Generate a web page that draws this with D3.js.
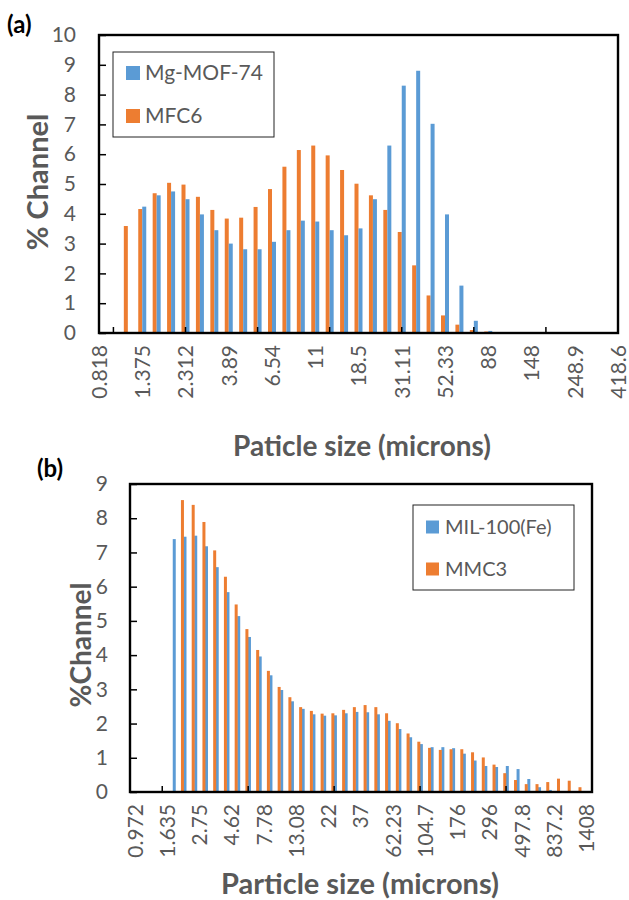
<!DOCTYPE html>
<html>
<head>
<meta charset="utf-8">
<script src="https://cdn.jsdelivr.net/npm/d3@7"></script>
<style>
  body { margin: 0; background: #fff; }
  text { font-family: Lato, "Open Sans", sans-serif; }
</style>
</head>
<body>
<script>
// ---- data (a) ----
const sizesA = ["0.818","0.972","1.156","1.375","1.635","1.945","2.312","2.75","3.27","3.89",
  "4.62","5.5","6.54","7.78","9.25","11","13.08","15.56","18.5","22","26.16","31.11","37","44",
  "52.33","62.23","74","88","104.7","124.5","148","176","209.3","248.9","296","352","418.6"];
const mfc6 = [0,0,3.59,4.16,4.69,5.04,4.98,4.57,4.13,3.84,3.87,4.23,4.83,5.58,6.14,6.29,5.96,5.47,
  5.01,4.62,4.13,3.39,2.27,1.26,0.59,0.28,0.10,0.05,0.03,0,0,0,0,0,0,0,0];
const mgMof = [0,0,0,4.24,4.62,4.75,4.49,3.98,3.45,3.00,2.81,2.81,3.06,3.45,3.77,3.74,3.45,3.28,
  3.51,4.49,6.29,8.30,8.80,7.02,3.98,1.59,0.41,0.07,0,0,0,0,0,0,0,0,0];
const seriesA = ["MFC6", "Mg-MOF-74"];

// ---- data (b) ----
const sizesB = ["0.972","1.156","1.375","1.635","1.945","2.312","2.75","3.27","3.89","4.62","5.5",
  "6.54","7.78","9.25","11","13.08","15.56","18.5","22","26.16","31.11","37","44","52.33","62.23",
  "74","88","104.7","124.5","148","176","209.3","248.9","296","352","418.6","497.8","592","704",
  "837.2","995.6","1184","1408"];
const mil100 = [0,0,0,0,7.39,7.46,7.49,7.18,6.57,5.84,5.14,4.53,3.96,3.41,2.98,2.65,2.43,2.27,2.23,
  2.24,2.30,2.34,2.33,2.27,2.08,1.84,1.60,1.40,1.31,1.31,1.28,1.12,0.92,0.76,0.73,0.76,0.67,0.38,
  0.14,0.06,0,0,0];
const mmc3 = [0,0,0,0,8.53,8.39,7.89,7.06,6.29,5.48,4.76,4.15,3.54,3.07,2.77,2.48,2.37,2.29,2.30,
  2.40,2.48,2.54,2.48,2.30,2.01,1.71,1.47,1.29,1.23,1.25,1.25,1.16,1.01,0.80,0.55,0.35,0.23,0.23,
  0.29,0.39,0.33,0.14,0];
const seriesB = ["MIL-100(Fe)", "MMC3"];

const blue = "#5B9BD5";
const orange = "#ED7D31";
const grey = "#595959";

const svg = d3.select('body')
  .append('svg')
  .attr('width', 629)
  .attr('height', 900);

// ================= chart (a) =================
const xA = d3.scalePoint().domain(sizesA).range([99, 618]);
const yA = d3.scaleLinear().domain([0, 10]).range([333, 35]);
const sA = d3.scalePoint().domain(seriesA).range([-2, 2]);
const colA = { "MFC6": orange, "Mg-MOF-74": blue };
const valsA = { "MFC6": mfc6, "Mg-MOF-74": mgMof };

const gA = svg.append('g');

seriesA.forEach(s => {
  gA.append('g').selectAll('rect')
    .data(sizesA)
    .enter()
    .append('rect')
    .attr('x', d => xA(d) + sA(s) - 2)
    .attr('width', 4)
    .attr('y', (d, i) => yA(valsA[s][i]))
    .attr('height', (d, i) => yA(0) - yA(valsA[s][i]))
    .attr('fill', colA[s]);
});

// y axis with inward ticks
gA.append('g')
  .attr('transform', 'translate(99,0)')
  .call(d3.axisLeft(yA).ticks(10).tickSize(-7).tickPadding(23))
  .call(g => g.select('.domain').remove())
  .call(g => g.selectAll('line').attr('stroke', '#000').attr('stroke-width', 1.5))
  .call(g => g.selectAll('text').attr('fill', grey).style('font-size', '21px'));

// x labels, every third channel
gA.append('g')
  .attr('transform', 'translate(0,333)')
  .call(d3.axisBottom(xA).tickValues(sizesA.filter((d, i) => i % 3 == 0)).tickSize(0))
  .call(g => g.select('.domain').remove())
  .call(g => g.selectAll('text')
    .attr('transform', 'rotate(-90)')
    .attr('x', -12).attr('y', 0).attr('dy', '0.35em')
    .style('text-anchor', 'end')
    .style('font-size', '21px')
    .attr('fill', grey));

// x tick marks (inward)
gA.append('g').selectAll('line')
  .data(sizesA.filter((d, i) => i % 5 == 1))
  .enter()
  .append('line')
  .attr('x1', d => xA(d)).attr('x2', d => xA(d))
  .attr('y1', 333).attr('y2', 327)
  .attr('stroke', '#000').attr('stroke-width', 1.5);

gA.append('rect')
  .attr('x', 99).attr('y', 35)
  .attr('width', 618 - 99).attr('height', 333 - 35)
  .attr('fill', 'none').attr('stroke', '#000').attr('stroke-width', 2.4);

// legend (a)
gA.append('rect')
  .attr('x', 113).attr('y', 52).attr('width', 161).attr('height', 85)
  .attr('fill', '#fff').attr('stroke', '#222').attr('stroke-width', 1);
[["Mg-MOF-74", 73], ["MFC6", 116]].forEach(([name, ty]) => {
  gA.append('rect')
    .attr('x', 126).attr('y', ty - 7).attr('width', 14).attr('height', 14)
    .attr('fill', colA[name]);
  gA.append('text')
    .attr('x', 145).attr('y', ty).attr('dy', '0.35em')
    .style('font-size', '21px').attr('fill', grey)
    .text(name);
});

gA.append('text')
  .attr('x', 362).attr('y', 456)
  .style('text-anchor', 'middle').style('font-size', '28px').style('font-weight', 'bold')
  .attr('fill', grey)
  .text('Paticle size (microns)');

gA.append('text')
  .attr('transform', 'translate(48,182) rotate(-90)')
  .style('text-anchor', 'middle').style('font-size', '29px').style('font-weight', 'bold')
  .attr('fill', grey)
  .text('% Channel');

gA.append('text')
  .attr('x', 7).attr('y', 33)
  .style('font-size', '24px').style('font-weight', 'bold')
  .text('(a)');

// ================= chart (b) =================
const xB = d3.scaleBand().domain(sizesB).range([130, 592]);
const yB = d3.scaleLinear().domain([0, 9]).range([792, 484]);
const sB = d3.scalePoint().domain(seriesB).range([-4.1, 4.1]);
const colB = { "MIL-100(Fe)": blue, "MMC3": orange };
const valsB = { "MIL-100(Fe)": mil100, "MMC3": mmc3 };
const half = xB.bandwidth() / 2;

const gB = svg.append('g');

seriesB.forEach(s => {
  gB.append('g').selectAll('rect')
    .data(sizesB)
    .enter()
    .append('rect')
    .attr('x', d => xB(d) + half + sB(s) - 1.5)
    .attr('width', 3)
    .attr('y', (d, i) => yB(valsB[s][i]))
    .attr('height', (d, i) => yB(0) - yB(valsB[s][i]))
    .attr('fill', colB[s]);
});

gB.append('g')
  .attr('transform', 'translate(130,0)')
  .call(d3.axisLeft(yB).ticks(9).tickSize(-7).tickPadding(22))
  .call(g => g.select('.domain').remove())
  .call(g => g.selectAll('line').attr('stroke', '#000').attr('stroke-width', 1.5))
  .call(g => g.selectAll('text').attr('fill', grey).style('font-size', '21px'));

gB.append('g')
  .attr('transform', 'translate(0,792)')
  .call(d3.axisBottom(xB).tickValues(sizesB.filter((d, i) => i % 3 == 0)).tickSize(0))
  .call(g => g.select('.domain').remove())
  .call(g => g.selectAll('text')
    .attr('transform', 'rotate(-90)')
    .attr('x', -12).attr('y', 0).attr('dy', '0.35em')
    .style('text-anchor', 'end')
    .style('font-size', '21px')
    .attr('fill', grey));

// tick marks on channel boundaries, every 8
gB.append('g').selectAll('line')
  .data(sizesB.filter((d, i) => i % 8 == 3))
  .enter()
  .append('line')
  .attr('x1', d => xB(d)).attr('x2', d => xB(d))
  .attr('y1', 792).attr('y2', 786)
  .attr('stroke', '#000').attr('stroke-width', 1.5);

gB.append('rect')
  .attr('x', 130).attr('y', 484)
  .attr('width', 592 - 130).attr('height', 792 - 484)
  .attr('fill', 'none').attr('stroke', '#000').attr('stroke-width', 2.4);

// legend (b)
gB.append('rect')
  .attr('x', 413).attr('y', 505).attr('width', 161).attr('height', 85)
  .attr('fill', '#fff').attr('stroke', '#222').attr('stroke-width', 1);
[["MIL-100(Fe)", 527], ["MMC3", 569]].forEach(([name, ty]) => {
  gB.append('rect')
    .attr('x', 426).attr('y', ty - 6.5).attr('width', 13).attr('height', 13)
    .attr('fill', colB[name]);
  gB.append('text')
    .attr('x', 445).attr('y', ty).attr('dy', '0.35em')
    .style('font-size', '20px').attr('fill', grey)
    .text(name);
});

gB.append('text')
  .attr('x', 360).attr('y', 894)
  .style('text-anchor', 'middle').style('font-size', '29px').style('font-weight', 'bold')
  .attr('fill', grey)
  .text('Particle size (microns)');

gB.append('text')
  .attr('transform', 'translate(91,645) rotate(-90)')
  .style('text-anchor', 'middle').style('font-size', '28px').style('font-weight', 'bold')
  .attr('fill', grey)
  .text('%Channel');

gB.append('text')
  .attr('x', 37).attr('y', 477)
  .style('font-size', '24px').style('font-weight', 'bold')
  .text('(b)');
</script>
</body>
</html>
